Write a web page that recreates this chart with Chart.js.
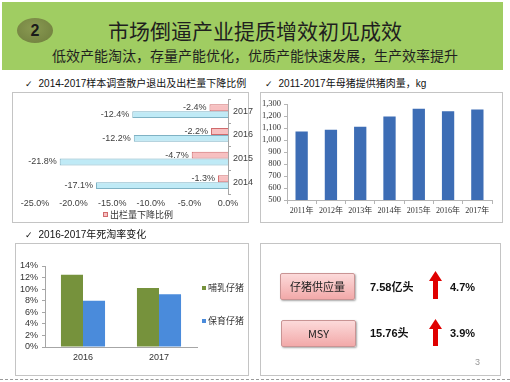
<!DOCTYPE html>
<html>
<head>
<meta charset="utf-8">
<script src="https://cdn.jsdelivr.net/npm/chart.js@4.4.1/dist/chart.umd.min.js"></script>
<style>
  body { margin: 0; width: 510px; height: 382px; background: #fff; position: relative; overflow: hidden;
         font-family: "Liberation Sans", Arial, "Noto Sans CJK SC", sans-serif; color: #222; }
  .abs { position: absolute; }
  .band { left: 2px; top: 2px; width: 501px; height: 68px; background: #a0cd62; }
  .badge { left: 17px; top: 18px; width: 36px; height: 25px; border-radius: 50%;
           background: radial-gradient(ellipse at 45% 40%, #8a9a52, #6d7c3c); 
           font: bold 16px "Liberation Sans", Arial, sans-serif; color: #1a1a1a; text-align: center; line-height: 25px; }
  .title { left: 0; width: 510px; top: 17px; text-align: center; font: 21px "Noto Sans CJK SC", sans-serif; color: #1f1f1f; line-height: 26px; }
  .subtitle { left: 0; width: 510px; top: 46px; text-align: center; font: 14px "Noto Sans CJK SC", sans-serif; color: #1f1f1f; line-height: 18px; }
  .ctitle { font: 10px "Liberation Sans", Arial, "Noto Sans CJK SC", sans-serif; color: #111; line-height: 14px; white-space: nowrap; }
  .ctitle span { font-family: "DejaVu Sans", sans-serif; font-size: 9px; margin-right: 6px; }
  .frame { border: 1px solid #c4c4c4; box-sizing: border-box; }
  .leg { font: 9px "Liberation Sans", Arial, "Noto Sans CJK SC", sans-serif; color: #333; line-height: 12px; white-space: nowrap; }
  .sq { display: inline-block; width: 4px; height: 4px; margin-right: 2px; vertical-align: 1px; }
  .btn { width: 75px; height: 27px; box-sizing: border-box; border: 1px solid #c99494; border-radius: 2px;
         background: linear-gradient(#fcdada, #f2a9a9); box-shadow: 1px 1px 2px rgba(0,0,0,.35);
         font: 11px "Noto Sans CJK SC", sans-serif; text-align: center; line-height: 25px; color: #222; }
  .kv { font: bold 11px "Liberation Sans", Arial, "Noto Sans CJK SC", sans-serif; color: #111; line-height: 14px; white-space: nowrap; }
  canvas { position: absolute; }
</style>
</head>
<body>
<div class="abs band"></div>
<div class="abs badge">2</div>
<div class="abs title">市场倒逼产业提质增效初见成效</div>
<div class="abs subtitle">低效产能淘汰，存量产能优化，优质产能快速发展，生产效率提升</div>

<div class="abs ctitle" style="left:25px;top:77px;"><span>✓</span>2014-2017样本调查散户退出及出栏量下降比例</div>
<div class="abs frame" style="left:12px;top:92px;width:237px;height:131px;"></div>
<canvas id="dropChart" style="left:12px;top:92px;"></canvas>
<div class="abs leg" style="left:103px;top:209px;"><span class="sq" style="width:5px;height:5px;background:#f7c0c1;border:1px solid #d06a6c;box-sizing:border-box;"></span>出栏量下降比例</div>

<div class="abs ctitle" style="left:265px;top:77px;"><span>✓</span>2011-2017年母猪提供猪肉量，kg</div>
<div class="abs frame" style="left:260px;top:92px;width:243px;height:131px;"></div>
<canvas id="porkChart" style="left:258px;top:92px;"></canvas>

<div class="abs ctitle" style="left:25px;top:228px;"><span>✓</span>2016-2017年死淘率变化</div>
<div class="abs frame" style="left:15px;top:243px;width:234px;height:133px;"></div>
<canvas id="mortChart" style="left:15px;top:243px;"></canvas>
<div class="abs leg" id="mortLegend" style="left:202px;top:282px;"></div>

<div class="abs frame" style="left:260px;top:243px;width:241px;height:133px;"></div>
<div class="abs btn" style="left:280px;top:273px;">仔猪供应量</div>
<div class="abs btn" style="left:281px;top:320px;">MSY</div>
<div class="abs kv" style="left:370px;top:280px;">7.58亿头</div>
<div class="abs kv" style="left:370px;top:326px;">15.76头</div>
<div class="abs kv" style="left:450px;top:280px;">4.7%</div>
<div class="abs kv" style="left:450px;top:326px;">3.9%</div>
<svg class="abs" style="left:429px;top:271px;" width="13" height="28"><polygon points="6.5,0 13,10 9,10 9,28 4,28 4,10 0,10" fill="#e00000"/></svg>
<svg class="abs" style="left:429px;top:319px;" width="13" height="27"><polygon points="6.5,0 13,10 9,10 9,27 4,27 4,10 0,10" fill="#e00000"/></svg>
<div class="abs" style="left:475px;top:357px;font:9px 'Liberation Sans',Arial,sans-serif;color:#999;">3</div>
<div class="abs" style="left:0;top:379px;width:510px;border-top:1px dashed #9a9a9a;"></div>

<script>
// 散户退出 / 出栏量下降比例 (%)
const dropYears = ['2017', '2016', '2015', '2014'];
const outputDrop = [-2.4, -2.2, -4.7, -1.3];
const farmerExit = [-12.4, -12.2, -21.8, -17.1];

// 母猪提供猪肉量 kg
const porkYears = ['2011年', '2012年', '2013年', '2014年', '2015年', '2016年', '2017年'];
const porkPerSow = [1070, 1085, 1110, 1195, 1260, 1240, 1255];

// 死淘率 (%)
const mortYears = ['2016', '2017'];
const sucklingMort = [12.5, 10.2];
const nurseryMort = [8.0, 9.1];
const mortNames = ['哺乳仔猪', '保育仔猪'];
const mortColors = ['#76923c', '#4a8bdb'];

const sans = '"Liberation Sans", Arial, "Noto Sans CJK SC", sans-serif';
const serif = '"Liberation Serif", "Times New Roman", "Noto Sans CJK SC", serif';

function setSize(id, w, h) {
    const c = document.getElementById(id);
    c.width = w; c.height = h;
    c.style.width = w + 'px'; c.style.height = h + 'px';
    return c.getContext('2d');
}

// value labels left of the bar end
const barLabels = {
    id: 'barLabels',
    afterDatasetsDraw(chart) {
        const ctx = chart.ctx;
        ctx.save();
        ctx.font = '9px ' + sans;
        ctx.fillStyle = '#404040';
        ctx.textAlign = 'right';
        ctx.textBaseline = 'middle';
        chart.data.datasets.forEach((ds, i) => {
            chart.getDatasetMeta(i).data.forEach((bar, j) => {
                ctx.fillText(ds.data[j].toFixed(1) + '%', bar.x - 3, bar.y);
            });
        });
        ctx.restore();
    }
};

new Chart(setSize('dropChart', 246, 130), {
    type: 'bar',
    data: {
        labels: dropYears,
        datasets: [{
            label: '出栏量下降比例',
            data: outputDrop,
            backgroundColor: '#f7c0c1',
            borderColor: '#d06a6c',
            borderWidth: 1
        }, {
            label: '散户退出比例',
            data: farmerExit,
            backgroundColor: '#bfeaf6',
            borderColor: '#7fb2c4',
            borderWidth: 1
        }]
    },
    options: {
        indexAxis: 'y',
        responsive: false,
        animation: false,
        layout: { padding: { left: 23, top: 0, right: 0, bottom: 0 } },
        plugins: { legend: { display: false }, tooltip: { enabled: false } },
        datasets: { bar: { categoryPercentage: 0.58, barPercentage: 1 } },
        scales: {
            x: {
                min: -25, max: 0,
                ticks: { stepSize: 5, padding: 4, color: '#404040', font: { size: 9, family: sans },
                         maxRotation: 0, minRotation: 0, autoSkip: false,
                         callback: v => v.toFixed(1) + '%' },
                grid: { display: false, drawTicks: false, tickLength: 0 },
                border: { display: false },
                afterFit: s => { s.height = 28; }
            },
            y: {
                position: 'right',
                ticks: { padding: 2, color: '#404040', font: { size: 9, family: sans } },
                grid: { offset: true, drawOnChartArea: false, tickLength: 3, color: '#a6a6a6' },
                border: { color: '#a6a6a6' },
                afterFit: s => { s.width = 30; }
            }
        }
    },
    plugins: [barLabels]
});

new Chart(setSize('porkChart', 244, 130), {
    type: 'bar',
    data: {
        labels: porkYears,
        datasets: [{ data: porkPerSow, backgroundColor: '#3d6db5' }]
    },
    options: {
        responsive: false,
        animation: false,
        layout: { padding: { left: 0, top: 12, right: 10, bottom: 0 } },
        plugins: { legend: { display: false }, tooltip: { enabled: false } },
        datasets: { bar: { categoryPercentage: 0.84, barPercentage: 0.5 } },
        scales: {
            x: {
                ticks: { padding: 2, color: '#333', font: { size: 8, family: serif },
                         maxRotation: 0, minRotation: 0, autoSkip: false },
                grid: { offset: true, drawOnChartArea: false, tickLength: 4, color: '#b5b5b5' },
                border: { color: '#b5b5b5' },
                afterFit: s => { s.height = 22; }
            },
            y: {
                min: 500, max: 1300,
                ticks: { stepSize: 100, padding: 3, color: '#333', font: { size: 8.5, family: serif },
                         autoSkip: false, callback: v => v.toLocaleString('en-US') },
                grid: { drawOnChartArea: false, tickLength: 3, color: '#b5b5b5' },
                border: { color: '#b5b5b5' },
                afterFit: s => { s.width = 29; }
            }
        }
    }
});

new Chart(setSize('mortChart', 190, 132), {
    type: 'bar',
    data: {
        labels: mortYears,
        datasets: [
            { label: mortNames[0], data: sucklingMort, backgroundColor: mortColors[0] },
            { label: mortNames[1], data: nurseryMort, backgroundColor: mortColors[1] }
        ]
    },
    options: {
        responsive: false,
        animation: false,
        layout: { padding: { left: 0, top: 23, right: 8, bottom: 0 } },
        plugins: { legend: { display: false }, tooltip: { enabled: false } },
        datasets: { bar: { categoryPercentage: 0.58, barPercentage: 1 } },
        scales: {
            x: {
                ticks: { padding: 5, color: '#333', font: { size: 9, family: sans }, maxRotation: 0 },
                grid: { display: false, drawTicks: false, tickLength: 0 },
                border: { color: '#a6a6a6' },
                afterFit: s => { s.height = 28; }
            },
            y: {
                min: 0, max: 14,
                ticks: { stepSize: 2, padding: 4, color: '#333', font: { size: 9, family: sans },
                         autoSkip: false, callback: v => v + '%' },
                grid: { drawOnChartArea: false, tickLength: 3, color: '#a6a6a6' },
                border: { color: '#a6a6a6' },
                afterFit: s => { s.width = 30; }
            }
        }
    }
});

// legend for the mortality chart, stacked on the right
const legendBox = document.getElementById('mortLegend');
mortNames.forEach((name, i) => {
    const row = document.createElement('div');
    row.style.marginBottom = i === 0 ? '21px' : '0';
    row.innerHTML = '<span class="sq" style="background:' + mortColors[i] + '"></span>' + name;
    legendBox.appendChild(row);
});
</script>
</body>
</html>
